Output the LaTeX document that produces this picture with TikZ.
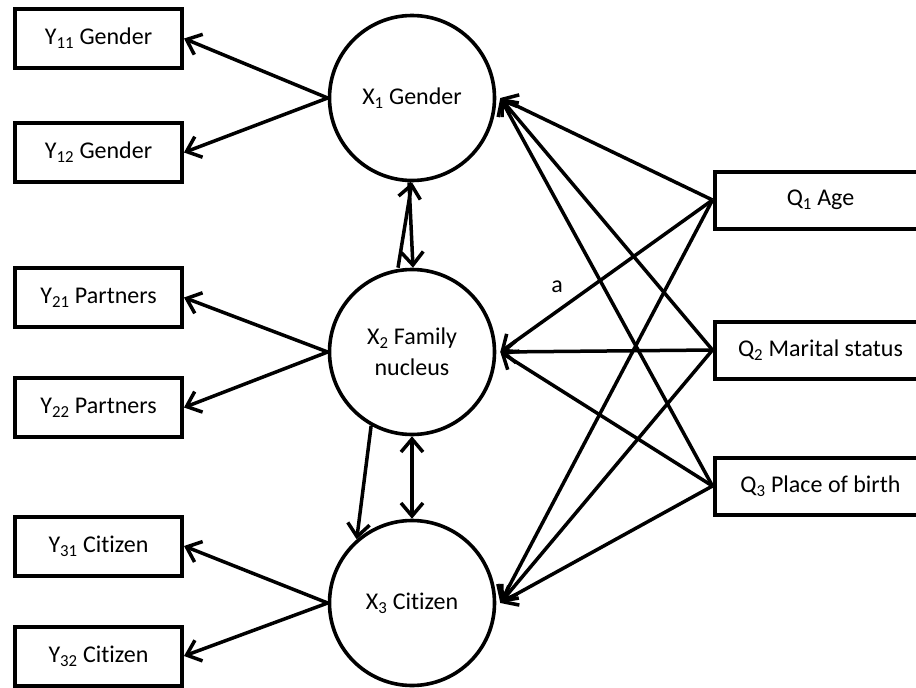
\documentclass[tikz,border=0pt]{standalone}
\usepackage{fontspec}
\setmainfont[Ligatures=NoCommon]{Carlito}
\usetikzlibrary{arrows.meta}
\tikzset{
  lbox/.style={draw, line width=4pt, minimum width=167pt, minimum height=59pt, inner sep=0pt, font=\fontsize{24}{28}\selectfont},
  rbox/.style={draw, line width=4pt, minimum width=212pt, minimum height=57pt, inner sep=0pt, font=\fontsize{24}{28}\selectfont},
  latent/.style={draw, circle, line width=3.6pt, minimum size=165pt, inner sep=0pt, align=center, font=\fontsize{24}{31}\selectfont},
  arr/.style={line width=3.5pt, -{Straight Barb[length=13pt,width=22pt,line width=3.5pt]}},
  darr/.style={line width=3.5pt, {Straight Barb[length=13pt,width=22pt,line width=3.5pt]}-{Straight Barb[length=13pt,width=22pt,line width=3.5pt]}},
  lab/.style={font=\fontsize{24}{28}\selectfont, inner sep=0pt}
}
\begin{document}
\begin{tikzpicture}[x=1pt,y=-1pt]
\useasboundingbox (0,0) rectangle (916,688);
\clip (0,0) rectangle (916,688);
% latent circles
\node[latent] (X1) at (412,98) {X\textsubscript{1} Gender};
\node[latent] (X2) at (412,352) {X\textsubscript{2} Family\\nucleus};
\node[latent] (X3) at (412,603) {X\textsubscript{3} Citizen};
% left boxes
\node[lbox] (Y11) at (98.5,38.5) {Y\textsubscript{11} Gender};
\node[lbox] (Y12) at (98.5,152.5) {Y\textsubscript{12} Gender};
\node[lbox] (Y21) at (98.5,297.5) {Y\textsubscript{21} Partners};
\node[lbox] (Y22) at (98.5,407.5) {Y\textsubscript{22} Partners};
\node[lbox] (Y31) at (98.5,546) {Y\textsubscript{31} Citizen};
\node[lbox] (Y32) at (98.5,656) {Y\textsubscript{32} Citizen};
% right boxes
\node[rbox] (Q1) at (820.5,200) {Q\textsubscript{1} Age};
\node[rbox] (Q2) at (820.5,350) {Q\textsubscript{2} Marital status};
\node[rbox] (Q3) at (820.5,486) {Q\textsubscript{3} Place of birth};
% loadings
\draw[arr] (X1.west) -- (Y11.east);
\draw[arr] (X1.west) -- (Y12.east);
\draw[arr] (X2.west) -- (Y21.east);
\draw[arr] (X2.west) -- (Y22.east);
\draw[arr] (X3.west) -- (Y31.east);
\draw[arr] (X3.west) -- (Y32.east);
% covariates
\foreach \q in {Q1,Q2,Q3}{
  \foreach \x in {X1,X2,X3}{
    \draw[arr] (\q.west) -- ([xshift=4pt]\x.east);
  }
}
\node[lab] (a) at (557,287) {a};
% structural
\draw[arr] ([xshift=-14pt]X2.north) -- (X1.south);
\draw[arr] ([xshift=-3pt]X1.south) -- ([xshift=1pt]X2.north);
\draw[arr] (X2.241) -- (X3.131);
\draw[darr] (X2.south) -- (X3.north);
\end{tikzpicture}
\end{document}
